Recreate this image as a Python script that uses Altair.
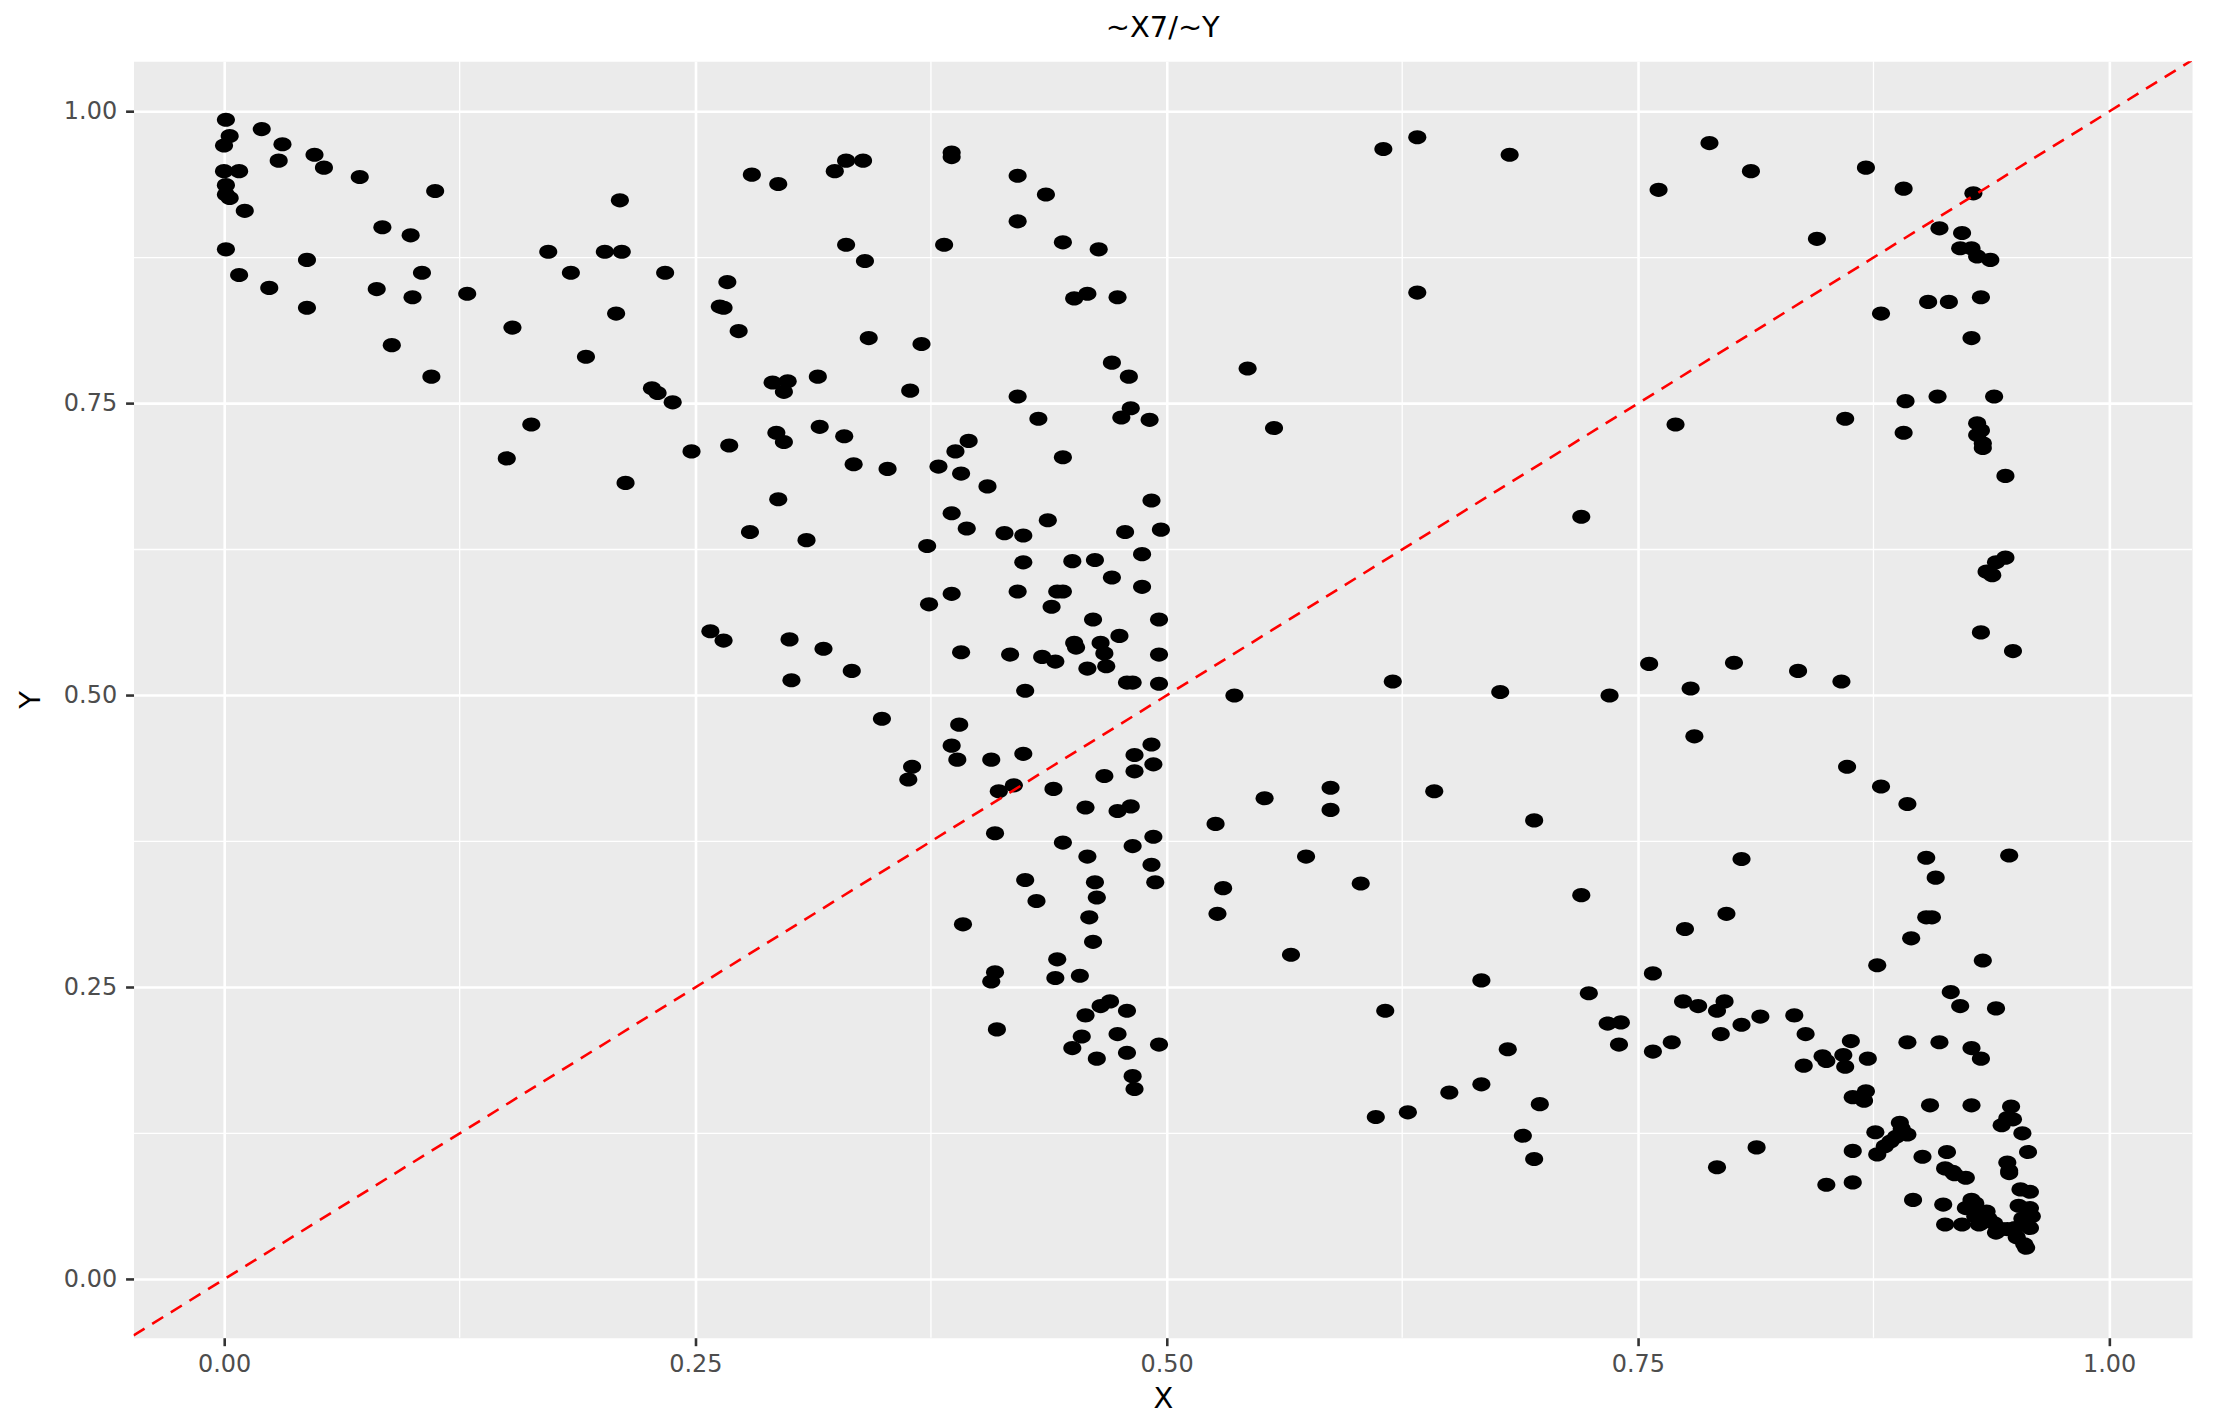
import altair as alt
import pandas as pd

# ---- data ----
x_vals = [
    0.001, 0.020, 0.003, 0.000, 0.031, 0.029, 0.048, 0.053, 0.072, 0.000, 0.008, 0.001, 0.001, 0.003, 0.011,
    0.112, 0.210, 0.280, 0.294, 0.084, 0.099, 0.001, 0.044, 0.172, 0.202, 0.211, 0.008, 0.024, 0.081, 0.105,
    0.100, 0.044, 0.129, 0.184, 0.234, 0.267, 0.263, 0.265, 0.208, 0.153, 0.089, 0.192, 0.273, 0.110, 0.227,
    0.230, 0.238, 0.291, 0.299, 0.297, 0.315, 0.163, 0.150, 0.248, 0.268, 0.293, 0.297, 0.316, 0.213, 0.294,
    0.279, 0.309, 0.258, 0.265, 0.300, 0.318, 0.301,
    0.324, 0.330, 0.339, 0.386, 0.386, 0.615, 0.633, 0.682, 0.421, 0.436, 0.421, 0.330, 0.382, 0.340, 0.445,
    0.464, 0.451, 0.458, 0.474, 0.633, 0.342, 0.370, 0.471, 0.480, 0.543, 0.364, 0.421, 0.481, 0.432, 0.476,
    0.491, 0.557, 0.329, 0.395, 0.388, 0.334, 0.352, 0.379, 0.391, 0.445, 0.405, 0.492, 0.386, 0.437, 0.394,
    0.414, 0.424, 0.478, 0.497, 0.373, 0.424, 0.450, 0.462, 0.487, 0.471, 0.421, 0.442, 0.445, 0.487, 0.386,
    0.374, 0.439, 0.461, 0.496, 0.451, 0.452, 0.465, 0.467, 0.475, 0.391, 0.417, 0.434, 0.441, 0.496, 0.333,
    0.458, 0.468, 0.479, 0.482, 0.496, 0.425, 0.536, 0.620, 0.677,
    0.788, 0.761, 0.810, 0.871, 0.891, 0.928, 0.845, 0.910, 0.922, 0.921, 0.927, 0.930, 0.937, 0.904, 0.915,
    0.932, 0.879, 0.927, 0.892, 0.909, 0.939, 0.770, 0.860, 0.891, 0.930, 0.932, 0.930, 0.933, 0.933, 0.945,
    0.720, 0.945, 0.940, 0.935, 0.938, 0.932, 0.949, 0.756, 0.801, 0.835, 0.858, 0.778, 0.735,
    0.349, 0.390, 0.386, 0.389, 0.365, 0.363, 0.407, 0.424, 0.419, 0.411, 0.440, 0.483, 0.492, 0.493, 0.483,
    0.467, 0.457, 0.474, 0.481, 0.409, 0.493, 0.482, 0.445, 0.458, 0.492, 0.494, 0.425, 0.462, 0.463, 0.431,
    0.459, 0.392, 0.461, 0.442, 0.409, 0.407, 0.441, 0.454, 0.410, 0.457, 0.465, 0.470, 0.479, 0.455, 0.474,
    0.450, 0.463, 0.479, 0.496, 0.482, 0.483, 0.526, 0.552, 0.587, 0.587, 0.642, 0.574, 0.530, 0.527, 0.603,
    0.566, 0.667, 0.616, 0.681, 0.667, 0.650, 0.628, 0.611,
    0.780, 0.861, 0.879, 0.893, 0.695, 0.805, 0.947, 0.903, 0.908, 0.720, 0.797, 0.775, 0.903, 0.906, 0.895,
    0.933, 0.877, 0.758, 0.724, 0.916, 0.921, 0.940, 0.774, 0.782, 0.792, 0.796, 0.815, 0.833, 0.734, 0.741,
    0.740, 0.805, 0.794, 0.839, 0.768, 0.758, 0.863, 0.893, 0.910, 0.927, 0.932, 0.848, 0.850, 0.859, 0.860,
    0.838, 0.872, 0.871, 0.864, 0.870, 0.864, 0.689, 0.695, 0.698, 0.813, 0.792, 0.850, 0.864,
    0.905, 0.927, 0.948, 0.946, 0.949, 0.943, 0.954, 0.957, 0.876, 0.889, 0.890, 0.893, 0.887, 0.884, 0.881,
    0.877, 0.901, 0.914, 0.913, 0.917, 0.918, 0.924, 0.946, 0.947, 0.947, 0.953, 0.958, 0.896, 0.912, 0.927,
    0.929, 0.924, 0.930, 0.935, 0.929, 0.936, 0.932, 0.939, 0.940, 0.943, 0.946, 0.950, 0.952, 0.958, 0.959,
    0.954, 0.958, 0.951, 0.955, 0.956, 0.913, 0.922, 0.931,
]
y_vals = [
    0.993, 0.985, 0.979, 0.971, 0.972, 0.958, 0.963, 0.952, 0.944, 0.949, 0.949, 0.937, 0.929, 0.926, 0.915,
    0.932, 0.924, 0.946, 0.938, 0.901, 0.894, 0.882, 0.873, 0.880, 0.880, 0.880, 0.860, 0.849, 0.848, 0.862,
    0.841, 0.832, 0.844, 0.862, 0.862, 0.854, 0.833, 0.832, 0.827, 0.815, 0.800, 0.790, 0.812, 0.773, 0.763,
    0.759, 0.751, 0.768, 0.769, 0.760, 0.773, 0.732, 0.703, 0.709, 0.714, 0.725, 0.717, 0.730, 0.682, 0.668,
    0.640, 0.633, 0.555, 0.547, 0.548, 0.540, 0.513,
    0.949, 0.958, 0.958, 0.965, 0.961, 0.968, 0.978, 0.963, 0.945, 0.929, 0.906, 0.886, 0.886, 0.872, 0.888,
    0.882, 0.840, 0.844, 0.841, 0.845, 0.806, 0.801, 0.785, 0.773, 0.780, 0.761, 0.756, 0.746, 0.737, 0.738,
    0.736, 0.729, 0.722, 0.718, 0.709, 0.698, 0.694, 0.696, 0.690, 0.704, 0.679, 0.667, 0.656, 0.650, 0.643,
    0.639, 0.637, 0.640, 0.642, 0.628, 0.614, 0.615, 0.616, 0.621, 0.601, 0.589, 0.589, 0.589, 0.593, 0.587,
    0.578, 0.576, 0.565, 0.565, 0.545, 0.541, 0.545, 0.536, 0.551, 0.537, 0.535, 0.533, 0.529, 0.535, 0.521,
    0.523, 0.525, 0.511, 0.511, 0.510, 0.504, 0.500, 0.512, 0.503,
    0.973, 0.933, 0.949, 0.952, 0.934, 0.930, 0.891, 0.900, 0.896, 0.883, 0.883, 0.876, 0.873, 0.837, 0.837,
    0.841, 0.827, 0.806, 0.752, 0.756, 0.756, 0.732, 0.737, 0.725, 0.733, 0.727, 0.723, 0.716, 0.712, 0.688,
    0.653, 0.618, 0.614, 0.606, 0.603, 0.554, 0.538, 0.527, 0.528, 0.521, 0.512, 0.506, 0.500,
    0.480, 0.475, 0.457, 0.445, 0.439, 0.428, 0.445, 0.450, 0.423, 0.418, 0.420, 0.449, 0.458, 0.441, 0.435,
    0.431, 0.404, 0.401, 0.405, 0.382, 0.379, 0.371, 0.374, 0.362, 0.355, 0.340, 0.342, 0.340, 0.327, 0.324,
    0.310, 0.304, 0.289, 0.274, 0.263, 0.255, 0.258, 0.260, 0.214, 0.226, 0.234, 0.238, 0.230, 0.208, 0.210,
    0.198, 0.189, 0.194, 0.201, 0.174, 0.163, 0.390, 0.412, 0.421, 0.402, 0.418, 0.362, 0.335, 0.313, 0.339,
    0.278, 0.256, 0.230, 0.197, 0.167, 0.160, 0.143, 0.139,
    0.465, 0.439, 0.422, 0.407, 0.393, 0.360, 0.363, 0.361, 0.344, 0.329, 0.313, 0.300, 0.310, 0.310, 0.292,
    0.273, 0.269, 0.262, 0.245, 0.246, 0.234, 0.232, 0.238, 0.234, 0.230, 0.238, 0.225, 0.226, 0.219, 0.220,
    0.201, 0.218, 0.210, 0.210, 0.203, 0.195, 0.204, 0.203, 0.203, 0.198, 0.189, 0.191, 0.187, 0.192, 0.182,
    0.183, 0.189, 0.161, 0.156, 0.153, 0.110, 0.123, 0.103, 0.150, 0.113, 0.096, 0.081, 0.083,
    0.149, 0.149, 0.148, 0.138, 0.137, 0.132, 0.125, 0.109, 0.126, 0.134, 0.129, 0.124, 0.122, 0.118, 0.114,
    0.107, 0.105, 0.109, 0.095, 0.092, 0.090, 0.087, 0.100, 0.093, 0.091, 0.077, 0.075, 0.068, 0.064, 0.068,
    0.065, 0.061, 0.058, 0.058, 0.054, 0.052, 0.048, 0.048, 0.040, 0.043, 0.043, 0.044, 0.063, 0.061, 0.054,
    0.052, 0.044, 0.036, 0.030, 0.027, 0.047, 0.047, 0.047,
]
major_ticks = [0.0, 0.25, 0.5, 0.75, 1.0]
minor_ticks = [0.125, 0.375, 0.625, 0.875]
x_domain = [-0.048, 1.044]
y_domain = [-0.050, 1.043]
chart_title = "~X7/~Y"
x_title = "X"
y_title = "Y"

FONT = "DejaVu Sans"

points_df = pd.DataFrame({"X": x_vals, "Y": y_vals})
line_df = pd.DataFrame({"X": x_domain, "Y": x_domain})
minor_df = pd.DataFrame({"v": minor_ticks})

xs = alt.Scale(domain=x_domain, nice=False, zero=False)
ys = alt.Scale(domain=y_domain, nice=False, zero=False)

x_axis = alt.Axis(values=major_ticks, format=".2f", title=x_title, grid=True)
y_axis = alt.Axis(values=major_ticks, format=".2f", title=y_title, grid=True)

minor_x = alt.Chart(minor_df).mark_rule(color="white", strokeWidth=1.3).encode(
    x=alt.X("v:Q", scale=xs, axis=x_axis, title=x_title)
)
minor_y = alt.Chart(minor_df).mark_rule(color="white", strokeWidth=1.3).encode(
    y=alt.Y("v:Q", scale=ys, axis=y_axis, title=y_title)
)

ellipse = "M-1,0A1,0.78,0,1,0,1,0A1,0.78,0,1,0,-1,0Z"
points = alt.Chart(points_df).mark_point(
    shape=ellipse, filled=True, color="black", opacity=1, size=330
).encode(
    x=alt.X("X:Q", scale=xs, axis=x_axis, title=x_title),
    y=alt.Y("Y:Q", scale=ys, axis=y_axis, title=y_title),
)

abline = alt.Chart(line_df).mark_line(
    color="#FF0000", strokeDash=[13, 9], strokeWidth=2.6, clip=True
).encode(
    x=alt.X("X:Q", scale=xs, axis=x_axis, title=x_title),
    y=alt.Y("Y:Q", scale=ys, axis=y_axis, title=y_title),
)

chart = alt.layer(minor_x, minor_y, points, abline).properties(
    width=2066,
    height=1281,
    autosize=alt.AutoSizeParams(type="none"),
    padding={"left": 126, "top": 51, "right": 14, "bottom": 75},
    title=alt.TitleParams(
        text=chart_title, font=FONT, fontSize=29, fontWeight="normal", color="black",
        anchor="middle", baseline="bottom", offset=22, dy=33,
    ),
).configure(
    background="white",
).configure_view(
    fill="#EBEBEB", stroke="transparent",
).configure_axis(
    domain=False,
    gridColor="white", gridWidth=2.6, gridOpacity=1,
    tickColor="#333333", tickSize=8, tickWidth=2.6,
    labelFont=FONT, labelFontSize=24, labelColor="#4D4D4D",
    titleFont=FONT, titleFontSize=29, titleFontWeight="normal", titleColor="black",
).configure_axisX(
    labelPadding=7, titlePadding=8,
).configure_axisY(
    labelPadding=9, titlePadding=18,
)

chart.save("out.html", embed_options={"renderer": "svg", "actions": False})
